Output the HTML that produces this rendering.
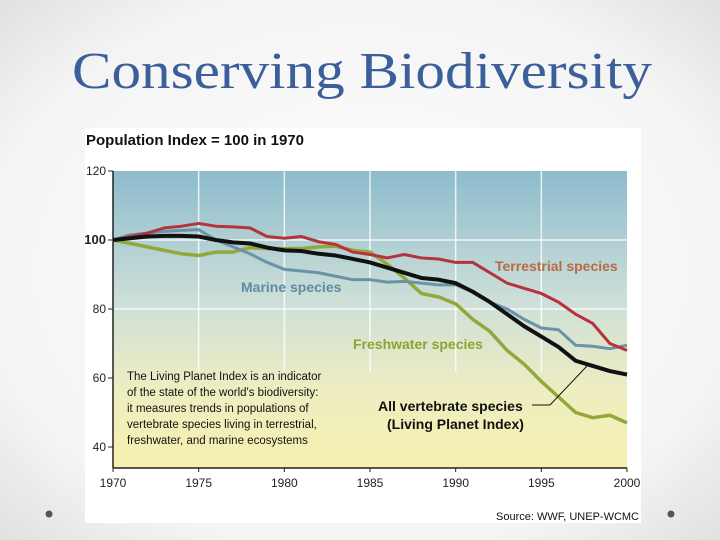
<!DOCTYPE html>
<html><head><meta charset="utf-8"><style>
html,body{margin:0;padding:0;width:720px;height:540px;overflow:hidden;background:#fff}
</style></head><body>
<svg width="720" height="540" viewBox="0 0 720 540" xmlns="http://www.w3.org/2000/svg">
<defs>
<radialGradient id="bg" cx="50%" cy="50%" r="75%">
<stop offset="0" stop-color="#ffffff"/><stop offset="0.7" stop-color="#f4f4f4"/><stop offset="1" stop-color="#dcdcdc"/>
</radialGradient>
<linearGradient id="plotbg" x1="0" y1="0" x2="0" y2="1">
<stop offset="0" stop-color="#8dbccd"/><stop offset="0.45" stop-color="#cfe0d8"/><stop offset="0.75" stop-color="#eeeec0"/><stop offset="1" stop-color="#f6f0b0"/>
</linearGradient>
</defs>
<rect width="720" height="540" fill="url(#bg)"/>
<text x="362" y="88" text-anchor="middle" font-family="Liberation Serif, serif" font-size="52" fill="#3a5f9a" textLength="580" lengthAdjust="spacingAndGlyphs">Conserving Biodiversity</text>
<circle cx="49" cy="514" r="3.5" fill="#555"/>
<circle cx="671" cy="514" r="3.5" fill="#555"/>
<rect x="85" y="128" width="556" height="395" fill="#fff"/>
<text x="86" y="145" font-family="Liberation Sans, sans-serif" font-weight="bold" font-size="15" fill="#111">Population Index = 100 in 1970</text>
<rect x="113" y="171" width="514" height="297" fill="url(#plotbg)"/>
<g id="grid"></g>
<g id="axes"></g>
<g id="lines"></g>
<text x="241" y="292" font-family="Liberation Sans, sans-serif" font-weight="bold" font-size="14" fill="#5f8ba3">Marine species</text>
<text x="495" y="271" font-family="Liberation Sans, sans-serif" font-weight="bold" font-size="14" fill="#b86a45">Terrestrial species</text>
<text x="353" y="349" font-family="Liberation Sans, sans-serif" font-weight="bold" font-size="14" fill="#8fa332">Freshwater species</text>
<text x="378" y="411" font-family="Liberation Sans, sans-serif" font-weight="bold" font-size="14" fill="#111">All vertebrate species</text>
<text x="387" y="429" font-family="Liberation Sans, sans-serif" font-weight="bold" font-size="14" fill="#111">(Living Planet Index)</text>
<polyline points="532,405 550,405 587,366" fill="none" stroke="#111" stroke-width="1"/>
<g font-family="Liberation Sans, sans-serif" font-size="11.5" fill="#111">
<text x="127" y="380">The Living Planet Index is an indicator</text>
<text x="127" y="396">of the state of the world's biodiversity:</text>
<text x="127" y="412">it measures trends in populations of</text>
<text x="127" y="428">vertebrate species living in terrestrial,</text>
<text x="127" y="444">freshwater, and marine ecosystems</text>
</g>
<text x="639" y="520" text-anchor="end" font-family="Liberation Sans, sans-serif" font-size="11" fill="#111">Source: WWF, UNEP-WCMC</text>
</svg>
<script>
const years=[1970,1971,1972,1973,1974,1975,1976,1977,1978,1979,1980,1981,1982,1983,1984,1985,1986,1987,1988,1989,1990,1991,1992,1993,1994,1995,1996,1997,1998,1999,2000];
const terrestrial=[100,101,102,103.5,104,104.8,104,103.8,103.5,101,100.5,101,99.5,98.7,96.5,95.8,94.8,95.8,94.8,94.5,93.5,93.5,90.5,87.5,86,84.5,82,78.5,75.8,70,68];
const marine=[100,101.5,102,102.5,102.8,103,100,98,96,93.5,91.5,91,90.5,89.5,88.5,88.5,87.8,88,87.5,87,87,85,82,80,77,74.5,74,69.5,69.2,68.5,69.5];
const freshwater=[100,99,98,97,96,95.5,96.5,96.5,97.8,97.5,97.5,97.5,98,98.2,97,96.5,93,89,84.5,83.5,81.5,77,73.5,68,64,59,54.5,50,48.5,49.2,47];
const allSpecies=[100,100.5,101,101.2,101.2,101,100,99.3,99,97.8,97,96.8,96,95.5,94.5,93.5,92,90.5,89,88.5,87.5,85,82,78.5,75,72,69,65,63.5,62,61];
const xTicks=[1970,1975,1980,1985,1990,1995,2000];
const yTicks=[40,60,80,100,120];
const NS='http://www.w3.org/2000/svg';
const X=v=>113+(v-1970)*(514/30);
const Y=v=>240-(v-100)*(69/20);
function mk(tag,attrs,parent){const e=document.createElementNS(NS,tag);for(const k in attrs)e.setAttribute(k,attrs[k]);parent.appendChild(e);return e;}
const grid=document.getElementById('grid'),axes=document.getElementById('axes'),lines=document.getElementById('lines');
xTicks.slice(1,-1).forEach(t=>{const l=mk('line',{x1:X(t),x2:X(t),y1:171,y2:372,stroke:'#fff','stroke-width':1.5,opacity:0.8},grid);

});
[100,80].forEach(t=>{const l=mk('line',{x1:113,x2:627,y1:Y(t),y2:Y(t),stroke:'#fff','stroke-width':1.5,opacity:0.8},grid);

});
mk('line',{x1:113,x2:113,y1:171,y2:468,stroke:'#222','stroke-width':1.5},axes);
mk('line',{x1:113,x2:627,y1:468,y2:468,stroke:'#222','stroke-width':1.5},axes);
xTicks.forEach(t=>{mk('line',{x1:X(t),x2:X(t),y1:468,y2:472,stroke:'#222'},axes);
const tx=mk('text',{x:X(t),y:487,'text-anchor':'middle','font-family':'Liberation Sans, sans-serif','font-size':12,fill:'#222'},axes);tx.textContent=t;

});
yTicks.forEach(t=>{mk('line',{x1:108,x2:113,y1:Y(t),y2:Y(t),stroke:'#222'},axes);
const tx=mk('text',{x:106,y:Y(t)+4,'text-anchor':'end','font-family':'Liberation Sans, sans-serif','font-size':t===100?13:12,'font-weight':t===100?'bold':'normal',fill:'#222'},axes);tx.textContent=t;

});
function series(vals,color,w,name){const p=mk('polyline',{points:vals.map((v,i)=>X(years[i])+','+Y(v)).join(' '),fill:'none',stroke:color,'stroke-width':w,'stroke-linejoin':'round'},lines);

}
series(freshwater,'#93a83a',3.5,'freshwater-line');
series(marine,'#6a93a8',3,'marine-line');
series(terrestrial,'#b5323e',3,'terrestrial-line');
series(allSpecies,'#111',4,'all-species-line');
</script>
</body></html>
